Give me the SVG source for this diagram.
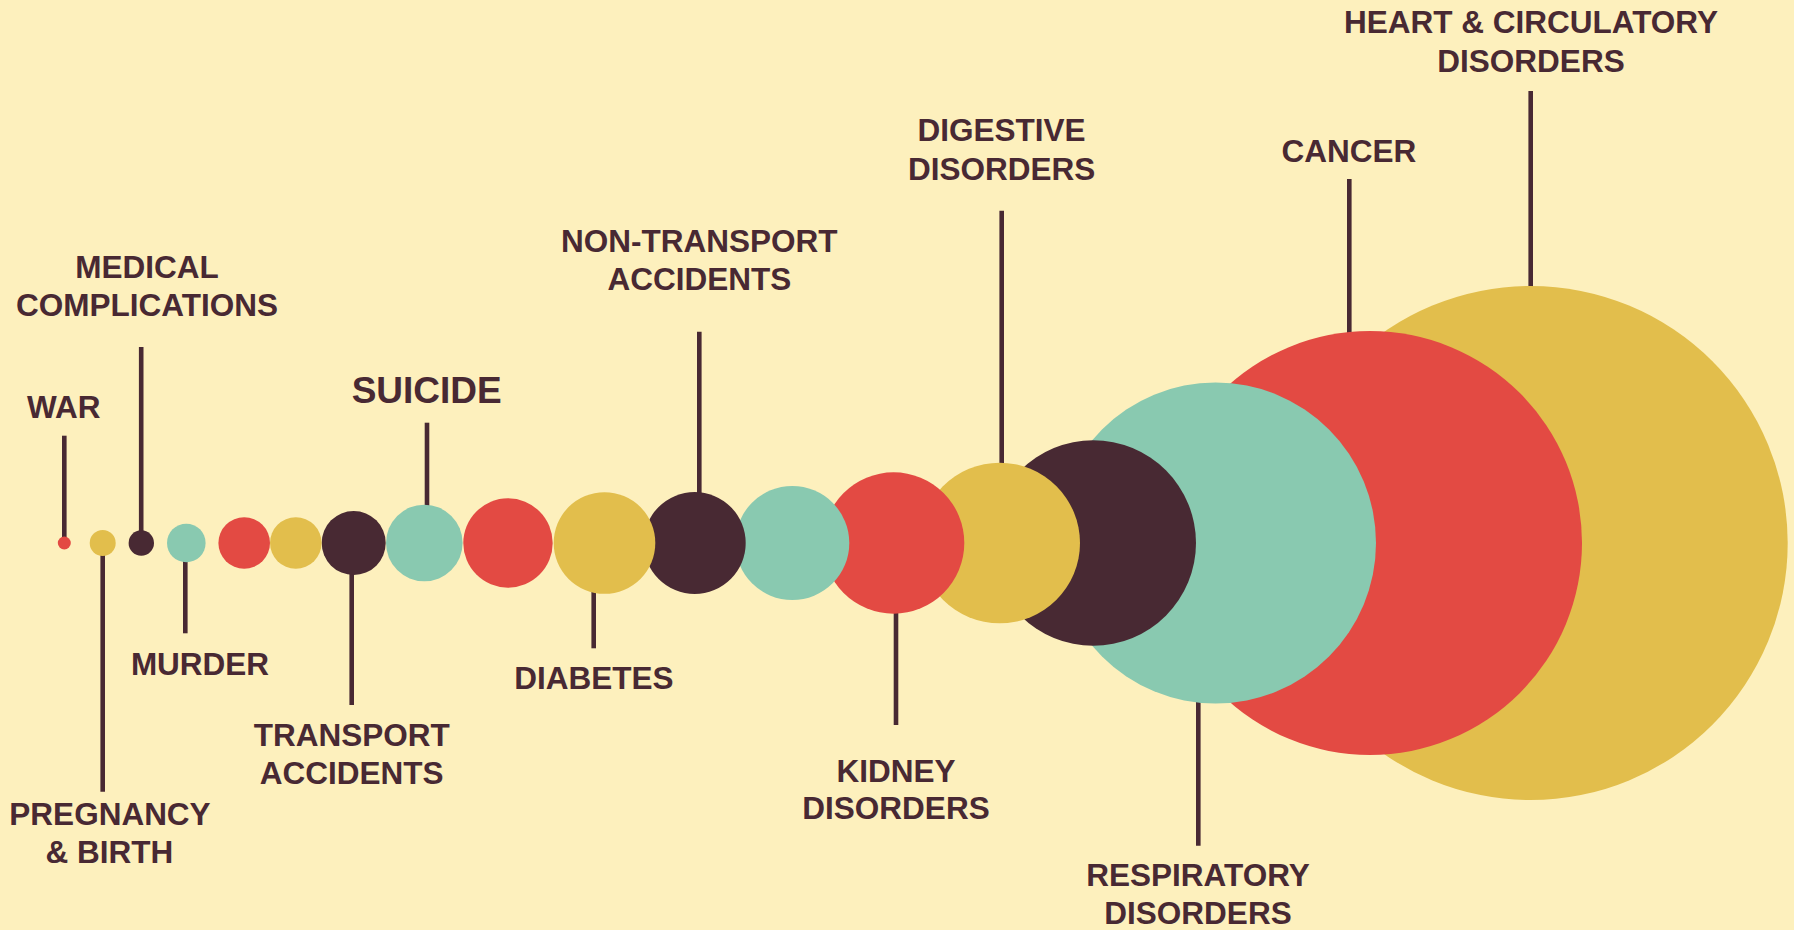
<svg xmlns="http://www.w3.org/2000/svg" width="1794" height="930" viewBox="0 0 1794 930">
  <style>
    .lbl { font-family: "Liberation Sans", Arial, sans-serif; font-weight: bold; font-size: 31.5px; fill: #482933; text-anchor: middle; }
    .big { font-size: 37px; }
    .red { fill: #E34A43; }
    .yel { fill: #E2BE4C; }
    .tea { fill: #89C9B0; }
    .drk { fill: #482933; }
    .conn line { stroke: #482933; stroke-width: 4.6; }
  </style>
  <rect width="1794" height="930" fill="#FDF0BD"/>
  <g id="connectors" class="conn">
    <line x1="64.3" y1="435.7" x2="64.3" y2="543"/>
    <line x1="102.7" y1="543" x2="102.7" y2="791.7"/>
    <line x1="141.2" y1="347" x2="141.2" y2="543"/>
    <line x1="185.3" y1="543" x2="185.3" y2="633.3"/>
    <line x1="351.7" y1="543" x2="351.7" y2="705"/>
    <line x1="427" y1="422.7" x2="427" y2="543"/>
    <line x1="593.7" y1="543" x2="593.7" y2="648.3"/>
    <line x1="699.3" y1="331.7" x2="699.3" y2="543"/>
    <line x1="896" y1="543" x2="896" y2="725"/>
    <line x1="1001.7" y1="210.7" x2="1001.7" y2="543"/>
    <line x1="1198.3" y1="543" x2="1198.3" y2="845.7"/>
    <line x1="1349.3" y1="179" x2="1349.3" y2="543"/>
    <line x1="1530.7" y1="91" x2="1530.7" y2="543"/>
  </g>
  <g id="heart">
    <circle class="yel" cx="1530.7" cy="543" r="257"/>
    <text class="lbl" x="1531" y="33.3">HEART &amp; CIRCULATORY</text>
    <text class="lbl" x="1531" y="71.7">DISORDERS</text>
  </g>
  <g id="cancer">
    <circle class="red" cx="1370" cy="543" r="212"/>
    <text class="lbl" x="1349" y="162">CANCER</text>
  </g>
  <g id="respiratory">
    <circle class="tea" cx="1215.5" cy="543" r="160.5"/>
    <text class="lbl" x="1198" y="886">RESPIRATORY</text>
    <text class="lbl" x="1198" y="924.3">DISORDERS</text>
  </g>
  <g id="unlabelled-dark-large">
    <circle class="drk" cx="1093.2" cy="543" r="102.8"/>
  </g>
  <g id="digestive">
    <circle class="yel" cx="999.7" cy="543" r="80.3"/>
    <text class="lbl" x="1001.6" y="140.7">DIGESTIVE</text>
    <text class="lbl" x="1001.6" y="180">DISORDERS</text>
  </g>
  <g id="kidney">
    <circle class="red" cx="893.6" cy="543" r="70.7"/>
    <text class="lbl" x="896" y="781.7">KIDNEY</text>
    <text class="lbl" x="896" y="819.3">DISORDERS</text>
  </g>
  <g id="teal-medium">
    <circle class="tea" cx="792.3" cy="543" r="57"/>
  </g>
  <g id="non-transport">
    <circle class="drk" cx="694.7" cy="543" r="51"/>
    <text class="lbl" x="699.3" y="251.7">NON-TRANSPORT</text>
    <text class="lbl" x="699.3" y="290">ACCIDENTS</text>
  </g>
  <g id="diabetes">
    <circle class="yel" cx="604.5" cy="543" r="50.8"/>
    <text class="lbl" x="593.8" y="689.3">DIABETES</text>
  </g>
  <g id="red-medium">
    <circle class="red" cx="508" cy="543" r="44.7"/>
  </g>
  <g id="suicide">
    <circle class="tea" cx="424.3" cy="543" r="38.3"/>
    <text class="lbl big" x="426.7" y="403.3">SUICIDE</text>
  </g>
  <g id="transport">
    <circle class="drk" cx="353.7" cy="543" r="32"/>
    <text class="lbl" x="351.7" y="746">TRANSPORT</text>
    <text class="lbl" x="351.7" y="784.3">ACCIDENTS</text>
  </g>
  <g id="yellow-small">
    <circle class="yel" cx="295.8" cy="543" r="25.8"/>
  </g>
  <g id="red-small">
    <circle class="red" cx="244.2" cy="543" r="25.8"/>
  </g>
  <g id="murder">
    <circle class="tea" cx="186.3" cy="543" r="19.3"/>
    <text class="lbl" x="200" y="675">MURDER</text>
  </g>
  <g id="medical">
    <circle class="drk" cx="141.3" cy="543" r="12.7"/>
    <text class="lbl" x="147" y="278.3">MEDICAL</text>
    <text class="lbl" x="147" y="316">COMPLICATIONS</text>
  </g>
  <g id="pregnancy">
    <circle class="yel" cx="102.7" cy="543" r="13"/>
    <text class="lbl" x="110" y="825">PREGNANCY</text>
    <text class="lbl" x="109.3" y="863.3">&amp; BIRTH</text>
  </g>
  <g id="war">
    <circle class="red" cx="64.3" cy="543" r="6.5"/>
    <text class="lbl" x="63.7" y="418.3">WAR</text>
  </g>
</svg>
